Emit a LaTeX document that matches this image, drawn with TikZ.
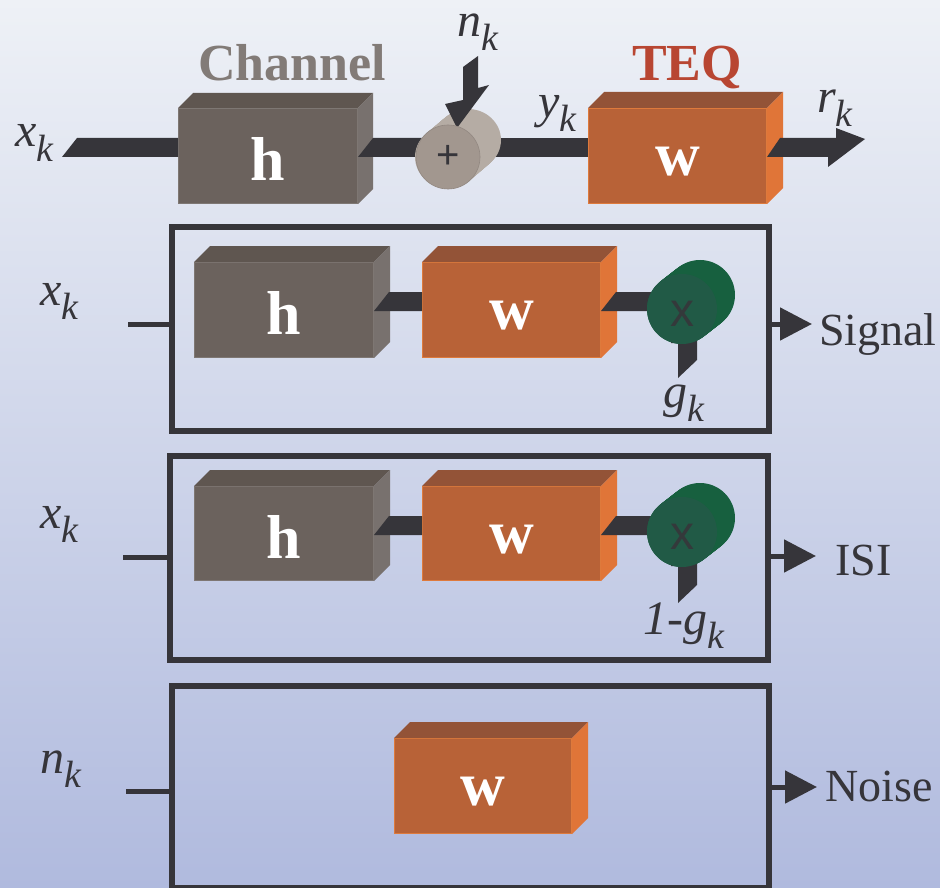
\documentclass[tikz,border=0pt]{standalone}
\usepackage{fontspec}
\setmainfont{Liberation Serif}
\newfontfamily\sansf{Liberation Sans}
\usetikzlibrary{calc,arrows.meta}

\definecolor{bgtop}{HTML}{EEF1F6}
\definecolor{bgmid}{HTML}{C8CFE7}
\definecolor{bgbot}{HTML}{B0BADE}
\definecolor{ink}{HTML}{36353A}
\definecolor{chfront}{HTML}{6B625D}
\definecolor{chtop}{HTML}{5F5650}
\definecolor{chside}{HTML}{78716E}
\definecolor{chedge}{HTML}{7E7773}
\definecolor{eqfront}{HTML}{B86237}
\definecolor{eqtop}{HTML}{935337}
\definecolor{eqside}{HTML}{E07538}
\definecolor{eqedge}{HTML}{DE7A3C}
\definecolor{addfront}{HTML}{A2978F}
\definecolor{addside}{HTML}{B5ACA4}
\definecolor{mulfront}{HTML}{215A46}
\definecolor{mulside}{HTML}{17603F}
\definecolor{chtext}{HTML}{827B77}
\definecolor{teqtext}{HTML}{B84632}

% italic variable with a lowered subscript
\newcommand\varlab[2]{\fontsize{48}{48}\selectfont\itshape #1\raisebox{-14pt}{\fontsize{38}{38}\selectfont #2}}

% top and side faces of a block whose front face is node #1
\newcommand\blockfaces[4]{%
  \fill[#2] (#1.north west) -- ++(#4,-#4) -- ($(#1.north east)+(#4,-#4)$) -- (#1.north east) -- cycle;
  \fill[#3] (#1.north east) -- ++(#4,-#4) -- ($(#1.south east)+(#4,-#4)$) -- (#1.south east) -- cycle;}

% flat 3-D wire from #1 to #2, lower edge at y=#3
\newcommand\slabbar[3]{%
  \fill[ink] (#1 |- 0,#3) -- ($(#1 |- 0,#3)+(15,-19)$) -- (#2 |- 0,{#3-19}) -- (#2 |- 0,#3) -- cycle;}

\tikzset{
  facebox/.style={anchor=north west, inner sep=0pt, minimum height=95pt, text=white,
    line width=1pt, font=\fontsize{62}{62}\selectfont\bfseries},
  chbox/.style={facebox, fill=chfront, draw=chedge, minimum width=179pt, text height=49pt, text depth=0pt},
  eqbox/.style={facebox, fill=eqfront, draw=eqedge, minimum width=178pt, text height=39pt, text depth=0pt},
  panelframe/.style={draw=ink, line width=5.5pt, anchor=north west, inner sep=0pt, minimum width=597pt},
  varnode/.style={anchor=base west, inner sep=0pt, text=ink},
  outtext/.style={anchor=base west, inner sep=0pt, text=ink, font=\fontsize{46}{46}\selectfont},
  wire/.style={draw=ink, line width=5pt},
  outarrow/.style={draw=ink, line width=5pt, -{Triangle[length=32pt,width=32pt]}},
  mulnode/.style={circle, fill=mulfront, minimum size=70pt, inner sep=0pt, text=ink!90!mulfront,
    text height=35pt, text depth=0pt, font=\sansf\fontsize{48}{48}\selectfont},
}

\begin{document}
\begin{tikzpicture}[x=1pt, y=-1pt]
\useasboundingbox (0,0) rectangle (940,888);
\shade[top color=bgtop, middle color=bgmid, bottom color=bgbot] (0,0) rectangle (940,888);

% ---------------- transmission chain ----------------
\node[font=\fontsize{52}{52}\selectfont\bfseries, text=chtext, anchor=base, inner sep=0pt] (chlab) at (292,81) {Channel};
\node[font=\fontsize{52}{52}\selectfont\bfseries, text=teqtext, anchor=base west, inner sep=0pt] (teqlab) at (632,81) {TEQ};

\node[chbox] (ch) at (178,108) {h};
\blockfaces{ch}{chtop}{chside}{15}
\node[eqbox] (teq) at (588,108) {w};
\blockfaces{teq}{eqtop}{eqside}{16}

\coordinate (xin) at (62,157);
\coordinate (addc) at (448,157);
\slabbar{xin}{ch.west}{157}
\slabbar{ch.east}{addc}{157}
\fill[ink] (addc |- 0,157) rectangle (teq.west |- 0,138);

% output arrow r_k
\coordinate (rout) at (865,139);
\fill[ink] (teq.east |- 0,157) -- ++(13,-19) -- (836,138) -- (836,128) -- (rout)
  -- (828,167) -- (828,157) -- cycle;

% adder cylinder
\foreach \t in {0,0.05,...,1.001}
  \fill[addside] ($(addc)+\t*(20,-17)$) ellipse [x radius=33pt, y radius=31pt];
\node[varnode] (nk) at (457,37) {\varlab{n}{k}};
\fill[ink] (463,67) -- (478,56) -- (478,88) -- (489,85) -- (457,128) -- (445,104) -- (463,100) -- cycle;
\node[circle, fill=addfront, draw=addfront!90!black, line width=0.6pt, minimum size=64pt, inner sep=0pt,
  text=ink, font=\sansf\fontsize{40}{40}\selectfont] (add) at (addc) {+};

\node[varnode] (xk0) at (15,147) {\varlab{x}{k}};
\node[varnode] (yk) at (538,118) {\varlab{y}{k}};
\node[varnode] (rk) at (817,113) {\varlab{r}{k}};

% ---------------- panel 1: signal ----------------
\node[panelframe, minimum height=204pt] (f1) at (169,224) {};
\node[chbox] (p1h) at (194,262) {h};
\blockfaces{p1h}{chtop}{chside}{16}
\node[eqbox] (p1w) at (422,262) {w};
\blockfaces{p1w}{eqtop}{eqside}{16}
\coordinate (m1c) at (682,309);
\slabbar{p1h.east}{p1w.west}{311}
\slabbar{p1w.east}{m1c}{311}
\foreach \t in {0,0.05,...,1.001}
  \fill[mulside] ($(m1c)+\t*(18,-14)$) circle (35pt);
\fill[ink] (678,378) -- (678,343) -- (671,343) -- (675,330) -- (697,330) -- (697,360) -- cycle;
\node[mulnode] (m1) at (m1c) {x};
\node[varnode] (gk1) at (663,407) {\varlab{g}{k}};
\coordinate (in1) at (128,324);
\draw[wire] (in1) -- (f1.west |- in1);
\node[varnode] (xk1) at (40,305) {\varlab{x}{k}};
\coordinate (out1) at (812,324);
\draw[outarrow] (f1.east |- out1) -- (out1);
\node[outtext] (sig) at (819,345) {Signal};

% ---------------- panel 2: ISI ----------------
\node[panelframe, minimum height=204pt, minimum width=598pt] (f2) at (167,453) {};
\node[chbox, minimum height=94pt] (p2h) at (194,486) {h};
\blockfaces{p2h}{chtop}{chside}{16}
\node[eqbox, minimum height=94pt] (p2w) at (422,486) {w};
\blockfaces{p2w}{eqtop}{eqside}{16}
\coordinate (m2c) at (682,532);
\slabbar{p2h.east}{p2w.west}{535}
\slabbar{p2w.east}{m2c}{535}
\foreach \t in {0,0.05,...,1.001}
  \fill[mulside] ($(m2c)+\t*(18,-14)$) circle (35pt);
\fill[ink] (678,603) -- (678,566) -- (671,566) -- (675,553) -- (697,553) -- (697,585) -- cycle;
\node[mulnode] (m2) at (m2c) {x};
\node[varnode] (gk2) at (643,634) {\varlab{1-g}{k}};
\coordinate (in2) at (123,557);
\draw[wire] (in2) -- (f2.west |- in2);
\node[varnode] (xk2) at (40,528) {\varlab{x}{k}};
\coordinate (out2) at (816,556);
\draw[outarrow] (f2.east |- out2) -- (out2);
\node[outtext] (isi) at (835,575) {ISI};

% ---------------- panel 3: noise ----------------
\node[panelframe, minimum height=202pt] (f3) at (169,683) {};
\node[eqbox, minimum width=177pt] (p3w) at (394,738) {w};
\blockfaces{p3w}{eqtop}{eqside}{16}
\coordinate (in3) at (126,791);
\draw[wire] (in3) -- (f3.west |- in3);
\node[varnode] (nk3) at (40,773) {\varlab{n}{k}};
\coordinate (out3) at (817,787);
\draw[outarrow] (f3.east |- out3) -- (out3);
\node[outtext] (noise) at (825,801) {Noise};
\end{tikzpicture}
\end{document}
